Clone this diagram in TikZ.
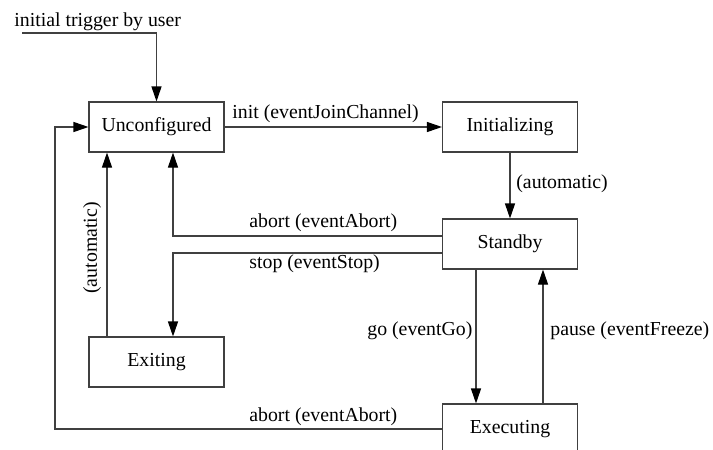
\documentclass[tikz,border=0pt]{standalone}
\usepackage{fontspec}
\setmainfont{Liberation Serif}
\usetikzlibrary{arrows.meta}
\begin{document}
\begin{tikzpicture}[x=0.5pt,y=-0.5pt,
  font=\fontsize{9.9}{12}\selectfont,
  state/.style={draw=black!75, line width=0.55pt, minimum width=67.5pt, minimum height=25pt, inner sep=0pt},
  arr/.style={draw=black!75, line width=0.55pt, -{Triangle[length=7.5pt,width=5pt,color=black]}},
  lbl/.style={anchor=base west, inner sep=0pt}]
\useasboundingbox (0,0) rectangle (713,450);
\clip (0,0) rectangle (713,450);

% states
\node[state] (U) at (156.5,127) {Unconfigured};
\node[state] (I) at (510,127) {Initializing};
\node[state] (S) at (510,244) {Standby};
\node[state] (X) at (156.5,362) {Exiting};
\node[state] (E) at (510,429) {Executing};

% bend points
\coordinate (start) at (22,33);
\coordinate (cA) at (173,236);
\coordinate (cS) at (173,253);
\coordinate (cX) at (107,250);
\coordinate (cL) at (55,300);
\coordinate (cG) at (476,330);
\coordinate (cP) at (543,330);

% transitions
\draw[arr] (start) -| (U.north);
\draw[arr] (U.east) -- (I.west);
\draw[arr] (I.south) -- (S.north);
\draw[arr] (S.west |- cA) -- (cA) -- (cA |- U.south);
\draw[arr] (S.west |- cS) -- (cS) -- (cS |- X.north);
\draw[arr] (cX |- X.north) -- (cX |- U.south);
\draw[arr] (cG |- S.south) -- (cG |- E.north);
\draw[arr] (cP |- E.north) -- (cP |- S.south);
\draw[arr] (E.west) -| (cL) |- (U.west);

% transition labels
\node[lbl] (lTrig) at (14,26) {initial trigger by user};
\node[lbl] (lInit) at (232,118) {init (eventJoinChannel)};
\node[lbl] (lAuto) at (516,188) {(automatic)};
\node[lbl] (lAbort) at (249,227) {abort (eventAbort)};
\node[lbl] (lStop) at (249,268) {stop (eventStop)};
\node[rotate=90, inner sep=0pt] (lAutoX) at (92,248) {(automatic)};
\node[lbl] (lGo) at (367,335) {go (eventGo)};
\node[lbl] (lPause) at (550,335) {pause (eventFreeze)};
\node[lbl] (lAbort2) at (249,421) {abort (eventAbort)};
\end{tikzpicture}
\end{document}
